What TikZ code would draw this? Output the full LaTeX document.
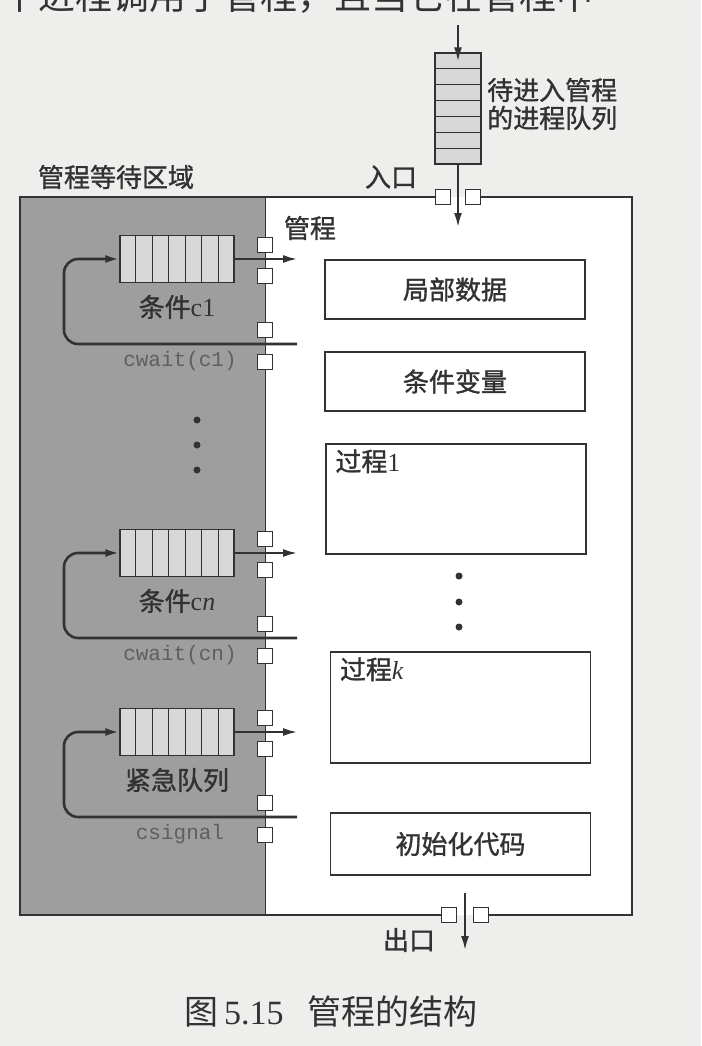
\documentclass[tikz,border=0pt]{standalone}
\usepackage{fontspec}
\setmainfont{Liberation Serif}
\setmonofont{Liberation Mono}
\newfontfamily\cjk{Noto Sans CJK SC}
\newfontfamily\cjkb[FakeBold=1.2]{Noto Sans CJK SC}
\definecolor{pagegray}{RGB}{238,238,236}
\definecolor{waitgray}{RGB}{158,158,158}
\definecolor{cellgray}{RGB}{216,216,216}
\definecolor{inkgray}{RGB}{50,50,50}
\definecolor{codegray}{RGB}{95,95,95}
\usetikzlibrary{arrows.meta,positioning,calc}

\begin{document}
\begin{tikzpicture}[x=1pt, y=-1pt,
    every node/.style={text=inkgray},
    lbl/.style={font=\fontsize{26}{28}\selectfont\cjkb, inner sep=0pt},
    code/.style={font=\fontsize{21}{24}\selectfont\ttfamily, text=codegray, inner sep=0pt},
    part/.style={draw=inkgray, line width=1.5pt, fill=white, minimum width=260pt,
                 inner sep=0pt, font=\fontsize{26}{28}\selectfont\cjkb},
    hqueue/.style={draw=inkgray, line width=1.3pt, fill=cellgray,
                   minimum width=114pt, minimum height=47pt, inner sep=0pt},
    gate/.style={draw=inkgray, line width=1.2pt, fill=white, minimum size=15pt, inner sep=0pt},
    arr/.style={draw=inkgray, line width=2pt, -{Latex[length=14pt,width=8pt]}},
    flow/.style={draw=inkgray, line width=2.6pt, rounded corners=14pt,
                 -{Latex[length=14pt,width=8pt]}}]

    % page and frame
    \useasboundingbox (0,0) rectangle (701,1046);
    \fill[pagegray] (0,0) rectangle (701,1046);
    \clip (0,0) rectangle (701,1046);

    % cut-off line of the page text above the figure
    \node[anchor=base west, inner sep=0pt, text=black!80,
          font=\fontsize{37}{40}\selectfont\cjk] (prevline) at (1,10)
      {个进程调用了管程，且当它在管程中};

    % monitor body and waiting area
    \fill[white] (20,197) rectangle (632,915);
    \fill[waitgray] (20,197) rectangle (265,915);
    \draw[inkgray, line width=2pt] (443,197) -- (20,197) -- (20,915) -- (449,915);
    \draw[inkgray, line width=2pt] (481,915) -- (632,915) -- (632,197) -- (473,197);
    \draw[inkgray, line width=0.8pt] (265,197) -- (265,915);

    \node[lbl] (waitlbl) at (116,177) {管程等待区域};
    \node[lbl] (entrylbl) at (391,177) {入口};
    \node[lbl] (monlbl) at (310,228) {管程};

    % queue of processes waiting to enter
    \node[draw=inkgray, line width=1.3pt, fill=cellgray, minimum width=46pt,
          minimum height=111pt, inner sep=0pt] (qin) at (458,108.5) {};
    \foreach \k in {1,...,6}{
      \draw[inkgray, line width=1.1pt] ($(qin.north west)!\k/7!(qin.south west)$)
        -- ($(qin.north east)!\k/7!(qin.south east)$);
    }
    \node[lbl, anchor=west, align=left] (qinlbl) at (487,104) {待进入管程\\的进程队列};
    \coordinate (qsrc) at (458,25);
    \coordinate (qdst) at (458,227);
    \draw[arr] (qsrc) -- ([yshift=-9pt]qin.north);
    \node[gate] (eg1) at (443,197) {};
    \node[gate] (eg2) at (473,197) {};
    \draw[arr] (qin.south) -- (qdst);

    % monitor parts
    \node[part, minimum height=59pt] (data) at (455,289.5) {局部数据};
    \node[part, minimum height=59pt] (cvar) at (455,381.5) {条件变量};
    \node[part, minimum height=110pt] (proc1) at (456,499) {};
    \node[lbl, anchor=north west] (proc1lbl) at ([shift={(10pt,-6pt)}]proc1.north west)
      {过程{\rmfamily 1}};
    \node[part, minimum height=111pt] (prock) at (460.5,707.5) {};
    \node[lbl, anchor=north west] (procklbl) at ([shift={(10pt,-6pt)}]prock.north west)
      {过程{\rmfamily\itshape k}};
    \node[part, minimum height=62pt] (init) at (460.5,844) {初始化代码};

    \foreach \y in {576,602,627}{
      \fill[inkgray] (459,\y) circle (3.5pt);
    }
    \foreach \y in {420,445,470}{
      \fill[inkgray] (197,\y) circle (3.5pt);
    }

    % condition queues and urgent queue
    \foreach \q/\y/\txt/\op in {qa/259/{条件{\rmfamily c1}}/{cwait(c1)},
                               qb/553/{条件{\rmfamily c\itshape n}}/{cwait(cn)},
                               qc/732/{紧急队列}/{csignal}}{
      \node[hqueue] (\q) at (177,\y) {};
      \foreach \k in {1,...,6}{
        \draw[inkgray, line width=1.1pt] ($(\q.north west)!\k/7!(\q.north east)$)
          -- ($(\q.south west)!\k/7!(\q.south east)$);
      }
      \node[lbl] (\q lbl) at (177,\y+48) {\txt};
      \node[code] (\q op) at (180,\y+102) {\op};
      \coordinate (\q out) at (297,\y);
      \coordinate (\q ret) at (297,\y+85);
      \coordinate (\q back) at (64,\y);
      \node[gate] (\q g1) at (265,\y-14) {};
      \node[gate] (\q g2) at (265,\y+17) {};
      \node[gate] (\q g3) at (265,\y+71) {};
      \node[gate] (\q g4) at (265,\y+103) {};
      \draw[arr] (\q.east) -- (\q out);
      \draw[flow] (\q ret) -| (\q back) -- (\q.west);
    }

    % exit
    \node[gate] (xg1) at (449,915) {};
    \node[gate] (xg2) at (481,915) {};
    \coordinate (xsrc) at (465,893);
    \coordinate (xdst) at (465,950);
    \draw[arr] (xsrc) -- (xdst);
    \node[lbl] (exitlbl) at (409,940) {出口};

    % caption
    \node[inner sep=0pt, font=\fontsize{34}{38}\selectfont] (caption) at (331,1012)
      {{\cjk 图}\,5.15\hspace{24pt}{\cjk 管程的结构}};
\end{tikzpicture}
\end{document}
